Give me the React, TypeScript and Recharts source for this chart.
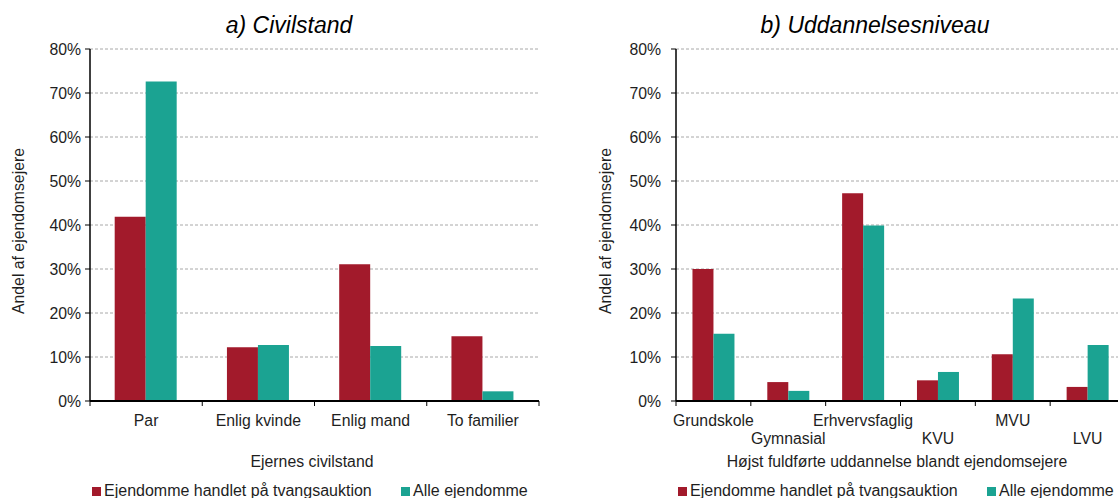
import React from "react";
import { BarChart, Bar, XAxis, YAxis, CartesianGrid } from "recharts";

// a) Civilstand
const civilCategories = ["Par", "Enlig kvinde", "Enlig mand", "To familier"];
const civilTvang = [41.9, 12.2, 31.1, 14.7];
const civilAlle = [72.6, 12.7, 12.5, 2.2];

// b) Uddannelsesniveau
const eduCategories = ["Grundskole", "Gymnasial", "Erhvervsfaglig", "KVU", "MVU", "LVU"];
const eduTvang = [30.0, 4.3, 47.2, 4.7, 10.6, 3.2];
const eduAlle = [15.3, 2.3, 39.9, 6.6, 23.3, 12.7];

const yTicks = [0, 10, 20, 30, 40, 50, 60, 70, 80];
const seriesNames = ["Ejendomme handlet på tvangsauktion", "Alle ejendomme"];
const yTitle = "Andel af ejendomsejere";

const RED = "#A21A2B";
const GREEN = "#1BA392";
const FONT = "'Liberation Sans', Arial, sans-serif";
const TEXT = "#1e1e1e";
const FS = 15.8;

const CHART_H = 498;
const PLOT_TOP = 49;
const X_AXIS_H = 60;
const MARGIN_BOTTOM = 37;

function CategoryTick(props: any) {
  const { x, y, payload, index, band, count, stagger } = props;
  const row = stagger && index % 2 === 1 ? 1 : 0;
  return (
    <g>
      <line x1={x - band / 2} x2={x - band / 2} y1={y} y2={y + 5} stroke="#000" strokeWidth={1} />
      {index === count - 1 && (
        <line x1={x + band / 2} x2={x + band / 2} y1={y} y2={y + 5} stroke="#000" strokeWidth={1} />
      )}
      <text
        x={x}
        y={y + 19 + row * 18}
        textAnchor="middle"
        dominantBaseline="central"
        fontSize={FS}
        fontFamily={FONT}
        fill={TEXT}
      >
        {payload.value}
      </text>
    </g>
  );
}

interface PanelProps {
  left: number;
  width: number;
  yAxisWidth: number;
  marginRight: number;
  yTickMargin: number;
  title: string;
  titleX: number;
  xTitle: string;
  xTitleX: number;
  yTitleX: number;
  categories: string[];
  tvang: number[];
  alle: number[];
  stagger?: boolean;
  legendX: number[];
}

function Panel(p: PanelProps) {
  const data = p.categories.map((name, i) => ({ name, tvang: p.tvang[i], alle: p.alle[i] }));
  const plotW = p.width - p.yAxisWidth - p.marginRight;
  const band = plotW / p.categories.length;
  const plotBottom = CHART_H - MARGIN_BOTTOM - X_AXIS_H;

  return (
    <div style={{ position: "absolute", left: p.left, top: 0, width: p.width, height: CHART_H }}>
      <div
        style={{
          position: "absolute",
          left: p.titleX - p.left,
          top: 11,
          transform: "translateX(-50%)",
          whiteSpace: "nowrap",
          fontSize: 23,
          lineHeight: "28px",
          fontStyle: "italic",
          color: "#000",
        }}
      >
        {p.title}
      </div>
      <BarChart
        width={p.width}
        height={CHART_H}
        data={data}
        margin={{ top: PLOT_TOP, right: p.marginRight, bottom: MARGIN_BOTTOM, left: 0 }}
        barCategoryGap="22%"
        barGap={0}
      >
        <CartesianGrid vertical={false} stroke="#a8a8a8" strokeDasharray="3 2" />
        <XAxis
          dataKey="name"
          height={X_AXIS_H}
          interval={0}
          tickLine={false}
          tickSize={0}
          tickMargin={0}
          axisLine={{ stroke: "#000", strokeWidth: 2 }}
          tick={<CategoryTick band={band} count={p.categories.length} stagger={p.stagger} />}
          label={() => (
            <text
              x={p.xTitleX - p.left}
              y={plotBottom + 60}
              textAnchor="middle"
              dominantBaseline="central"
              fontSize={FS}
              fontFamily={FONT}
              fill={TEXT}
            >
              {p.xTitle}
            </text>
          )}
        />
        <YAxis
          width={p.yAxisWidth}
          domain={[0, 80]}
          ticks={yTicks}
          interval={0}
          tickFormatter={(v) => `${v}%`}
          tickSize={5}
          tickMargin={p.yTickMargin}
          tickLine={{ stroke: "#000" }}
          axisLine={{ stroke: "#000", strokeWidth: 1.5 }}
          tick={{ fontSize: FS, fill: TEXT, fontFamily: FONT }}
          label={() => {
            const cy = (PLOT_TOP + plotBottom) / 2 + 6;
            return (
              <text
                x={p.yTitleX - p.left}
                y={cy}
                transform={`rotate(-90, ${p.yTitleX - p.left}, ${cy})`}
                textAnchor="middle"
                dominantBaseline="central"
                fontSize={FS}
                fontFamily={FONT}
                fill={TEXT}
              >
                {yTitle}
              </text>
            );
          }}
        />
        <Bar dataKey="tvang" name={seriesNames[0]} fill={RED} isAnimationActive={false} />
        <Bar dataKey="alle" name={seriesNames[1]} fill={GREEN} isAnimationActive={false} />
      </BarChart>
      {seriesNames.map((s, i) => (
        <div
          key={s}
          style={{
            position: "absolute",
            left: p.legendX[i] - p.left,
            top: 481,
            display: "flex",
            alignItems: "center",
            whiteSpace: "nowrap",
            fontSize: 16,
            lineHeight: "20px",
            color: TEXT,
          }}
        >
          <span style={{ display: "inline-block", width: 9, height: 9, background: i === 0 ? RED : GREEN, marginRight: 3 }} />
          {s}
        </div>
      ))}
    </div>
  );
}

export default function App() {
  return (
    <div
      style={{
        position: "absolute",
        left: 0,
        top: 0,
        width: 1118,
        height: 498,
        overflow: "hidden",
        background: "#fff",
        fontFamily: FONT,
      }}
    >
      <Panel
        left={0}
        width={580}
        yAxisWidth={90}
        marginRight={41}
        yTickMargin={4}
        title="a) Civilstand"
        titleX={289}
        xTitle="Ejernes civilstand"
        xTitleX={312}
        yTitleX={18}
        categories={civilCategories}
        tvang={civilTvang}
        alle={civilAlle}
        legendX={[92, 401]}
      />
      <Panel
        left={580}
        width={560}
        yAxisWidth={96}
        marginRight={15}
        yTickMargin={10}
        title="b) Uddannelsesniveau"
        titleX={875}
        xTitle="Højst fuldførte uddannelse blandt ejendomsejere"
        xTitleX={897}
        yTitleX={605}
        categories={eduCategories}
        tvang={eduTvang}
        alle={eduAlle}
        stagger
        legendX={[678, 987]}
      />
    </div>
  );
}
